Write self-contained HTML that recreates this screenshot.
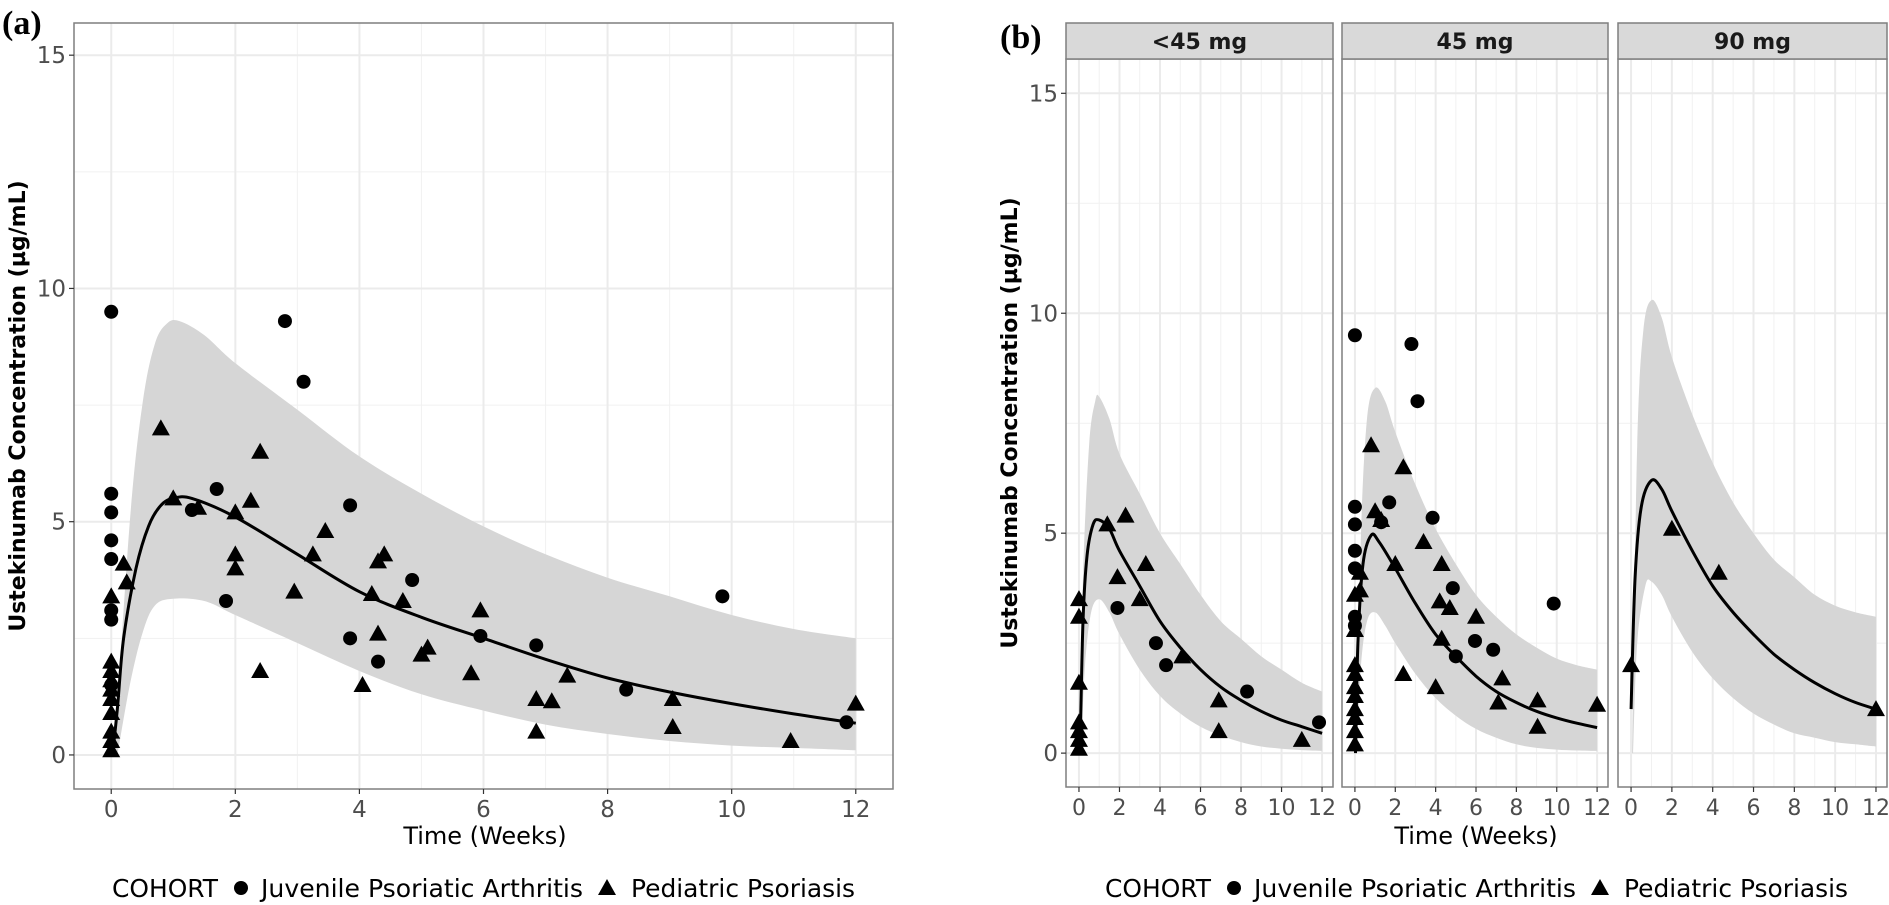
<!DOCTYPE html>
<html><head><meta charset="utf-8"><style>
body{margin:0;background:#fff;}
svg{display:block;font-family:"DejaVu Sans","Liberation Sans",sans-serif;}
</style></head><body>
<svg id="c" width="1889" height="905" viewBox="0 0 1889 905" xmlns="http://www.w3.org/2000/svg"></svg>
<script>
// ---- Panel (a) data ----
const aCircX=[0,0,0,0,0,0,0,0,1.3,1.7,1.85,2.8,3.1,3.85,3.85,4.3,4.85,5.95,6.85,8.3,9.85,11.85];
const aCircY=[9.5,5.6,5.2,4.6,4.2,3.1,2.9,1.5,5.25,5.7,3.3,9.3,8.0,5.35,2.5,2.0,3.75,2.55,2.35,1.4,3.4,0.7];
const aTriX=[0,0,0,0,0,0,0,0,0,0,0.2,0.25,0.8,1.0,1.4,2.0,2.0,2.0,2.25,2.4,2.4,2.95,3.25,3.45,4.05,4.2,4.3,4.3,4.4,4.7,5.0,5.1,5.8,5.95,6.85,6.85,7.1,7.35,9.05,9.05,10.95,12.0];
const aTriY=[3.4,2.0,1.8,1.6,1.4,1.2,0.9,0.5,0.3,0.1,4.1,3.7,7.0,5.5,5.3,5.2,4.3,4.0,5.45,6.5,1.8,3.5,4.3,4.8,1.5,3.45,4.15,2.6,4.3,3.3,2.15,2.3,1.75,3.1,1.2,0.5,1.15,1.7,1.2,0.6,0.3,1.1];
const aMedX=[0.02,0.1,0.2,0.4,0.6,0.8,1.0,1.3,2,3,4,5,6,7,8,9,10,11,12];
const aMedY=[0,1,2.5,4,4.9,5.35,5.5,5.5,5.1,4.3,3.5,2.95,2.5,2.05,1.65,1.35,1.1,0.88,0.68];
const aUpX=[0.05,0.3,0.5,0.7,0.9,1.1,1.5,2,3,4,5,6,7,8,9,10,11,12];
const aUpY=[0,5,7.5,8.8,9.25,9.3,9.0,8.4,7.4,6.4,5.6,4.9,4.3,3.8,3.4,3.0,2.7,2.5];
const aLoX=[0.1,0.3,0.5,0.7,1,1.5,2,3,4,5,6,7,8,9,10,11,12];
const aLoY=[0,1.5,2.6,3.2,3.35,3.3,3.0,2.4,1.8,1.3,0.95,0.65,0.45,0.3,0.2,0.15,0.1];
// ---- Panel (b) data ----
const facetLabels=["<45 mg","45 mg","90 mg"];
const b1CircX=[1.9,3.8,4.3,8.3,11.85];
const b1CircY=[3.3,2.5,2.0,1.4,0.7];
const b1TriX=[0,0,0,0,0,0,0,1.4,1.9,2.3,3.0,3.3,5.1,6.9,6.9,11];
const b1TriY=[3.5,3.1,1.6,0.7,0.5,0.3,0.1,5.2,4.0,5.4,3.5,4.3,2.2,1.2,0.5,0.3];
const b1MedX=[0.05,0.2,0.4,0.7,1,1.5,2,3,4,5,6,7,8,9,10,11,12];
const b1MedY=[0,3,4.5,5.2,5.3,5.1,4.6,3.8,3.0,2.4,1.9,1.5,1.2,0.95,0.75,0.6,0.45];
const b1UpX=[0.05,0.2,0.5,0.8,1,1.5,2,3,4,5,6,7,8,9,10,11,12];
const b1UpY=[0,4,7,8.0,8.1,7.6,6.8,5.9,5.0,4.3,3.6,3.0,2.6,2.2,1.9,1.6,1.4];
const b1LoX=[0.1,0.3,0.6,1,1.5,2,3,4,5,6,7,8,9,10,11,12];
const b1LoY=[0,2,3.2,3.5,3.2,2.7,1.9,1.3,0.9,0.6,0.4,0.25,0.15,0.1,0.07,0.05];
const b2CircX=[0,0,0,0,0,0,0,1.3,1.7,2.8,3.1,3.85,4.85,5.0,5.95,6.85,9.85];
const b2CircY=[9.5,5.6,5.2,4.6,4.2,3.1,2.9,5.25,5.7,9.3,8.0,5.35,3.75,2.2,2.55,2.35,3.4];
const b2TriX=[0,0,0,0,0,0,0,0,0,0,0.25,0.25,0.8,1.0,1.3,2.0,2.4,2.4,3.4,4.0,4.2,4.3,4.3,4.7,6.0,7.1,7.3,9.05,9.05,12];
const b2TriY=[3.6,2.8,2.0,1.8,1.5,1.3,1.0,0.8,0.5,0.2,4.1,3.7,7.0,5.5,5.3,4.3,6.5,1.8,4.8,1.5,3.45,4.3,2.6,3.3,3.1,1.15,1.7,1.2,0.6,1.1];
const b2MedX=[0.03,0.15,0.4,0.8,1.2,2,3,4,5,6,7,8,9,10,11,12];
const b2MedY=[0,2.5,4.3,4.95,4.8,4.2,3.4,2.7,2.2,1.75,1.4,1.15,0.95,0.8,0.68,0.58];
const b2UpX=[0.05,0.3,0.6,1,1.5,2,3,4,5,6,7,8,9,10,11,12];
const b2UpY=[0,5,7.6,8.3,8.0,7.3,6.1,5.1,4.3,3.6,3.1,2.7,2.4,2.15,2.0,1.9];
const b2LoX=[0.1,0.3,0.6,1,1.5,2,3,4,5,6,7,8,9,10,11,12];
const b2LoY=[0,2,3.0,3.2,2.9,2.5,1.8,1.25,0.85,0.55,0.35,0.2,0.12,0.08,0.06,0.05];
const b3CircX=[];
const b3CircY=[];
const b3TriX=[0,2,4.3,12];
const b3TriY=[2.0,5.1,4.1,1.0];
const b3MedX=[0,0.2,0.5,1,1.5,2,3,4,5,6,7,8,9,10,11,12];
const b3MedY=[1.0,4,5.6,6.2,6.0,5.5,4.6,3.8,3.2,2.7,2.25,1.9,1.6,1.35,1.15,1.0];
const b3UpX=[0.05,0.3,0.6,1,1.5,2,3,4,5,6,7,8,9,10,11,12];
const b3UpY=[0,7,9.6,10.3,9.9,9.0,7.7,6.6,5.7,5.0,4.4,4.0,3.6,3.35,3.2,3.1];
const b3LoX=[0.1,0.3,0.7,1,1.5,2,3,4,5,6,7,8,9,10,11,12];
const b3LoY=[0,2.5,3.8,3.9,3.6,3.1,2.3,1.7,1.25,0.9,0.65,0.45,0.35,0.25,0.2,0.15];
const xTicks=[0,2,4,6,8,10,12];
const yTicks=[0,5,10,15];

const NS="http://www.w3.org/2000/svg";
const svg=document.getElementById('c');
function mk(tag,attrs,parent){const e=document.createElementNS(NS,tag);for(const k in attrs)e.setAttribute(k,attrs[k]);(parent||svg).appendChild(e);return e;}

// Catmull-Rom smooth path through points; if cont, continue with 'L'
function smooth(pts,cont){
  let d=(cont?'L':'M')+pts[0][0].toFixed(1)+','+pts[0][1].toFixed(1);
  for(let i=0;i<pts.length-1;i++){
    const p0=pts[i-1]||pts[i],p1=pts[i],p2=pts[i+1],p3=pts[i+2]||pts[i+1];
    const c1x=p1[0]+(p2[0]-p0[0])/6,c1y=p1[1]+(p2[1]-p0[1])/6;
    const c2x=p2[0]-(p3[0]-p1[0])/6,c2y=p2[1]-(p3[1]-p1[1])/6;
    d+=`C${c1x.toFixed(1)},${c1y.toFixed(1)} ${c2x.toFixed(1)},${c2y.toFixed(1)} ${p2[0].toFixed(1)},${p2[1].toFixed(1)}`;
  }
  return d;
}

function panel(o){
  const g=mk('g',{});
  
  
  const sx=v=>o.x0+(v-o.xmin)/(o.xmax-o.xmin)*(o.x1-o.x0);
  const sy=v=>o.y1-(v-o.ymin)/(o.ymax-o.ymin)*(o.y1-o.y0);
  for(let v=1;v<=11;v+=2){mk('line',{x1:sx(v),x2:sx(v),y1:o.y0,y2:o.y1,stroke:'#f1f1f1','stroke-width':1},g);}
  for(const v of [2.5,7.5,12.5]){mk('line',{x1:o.x0,x2:o.x1,y1:sy(v),y2:sy(v),stroke:'#f1f1f1','stroke-width':1},g);}
  for(const v of xTicks){mk('line',{x1:sx(v),x2:sx(v),y1:o.y0,y2:o.y1,stroke:'#ebebeb','stroke-width':2},g);}
  for(const v of yTicks){mk('line',{x1:o.x0,x2:o.x1,y1:sy(v),y2:sy(v),stroke:'#ebebeb','stroke-width':2},g);}
  const up=o.upX.map((x,i)=>[sx(x),sy(o.upY[i])]);
  const lo=o.loX.map((x,i)=>[sx(x),sy(o.loY[i])]).reverse();
  const band=mk('path',{d:smooth(up,false)+smooth(lo,true)+'Z',fill:'#d6d6d6'},g);
  
  
  const md=o.medX.map((x,i)=>[sx(x),sy(o.medY[i])]);
  const med=mk('path',{d:smooth(md,false),fill:'none',stroke:'#000','stroke-width':3,'stroke-linejoin':'round'},g);
  
  
  o.cX.forEach((x,i)=>{
    const c=mk('circle',{cx:sx(x),cy:sy(o.cY[i]),r:7,fill:'#000'},g);
    
    
  });
  o.tX.forEach((x,i)=>{
    const cx=sx(x),cy=sy(o.tY[i]);
    const t=mk('polygon',{points:`${cx},${cy-9} ${cx-9},${cy+7} ${cx+9},${cy+7}`,fill:'#000'},g);
    
    
  });
  mk('rect',{x:o.x0,y:o.y0,width:o.x1-o.x0,height:o.y1-o.y0,fill:'none',stroke:'#7f7f7f','stroke-width':1.5},g);
  for(const v of xTicks){
    mk('line',{x1:sx(v),x2:sx(v),y1:o.y1,y2:o.y1+5,stroke:'#333','stroke-width':1.2},g);
    const t=mk('text',{x:sx(v),y:o.y1+28,'text-anchor':'middle','font-size':o.fs,fill:'#4d4d4d'},g);
    t.textContent=v;
    
    
  }
  if(o.yLabels){
    for(const v of yTicks){
      mk('line',{x1:o.x0-5,x2:o.x0,y1:sy(v),y2:sy(v),stroke:'#333','stroke-width':1.2},g);
      const t=mk('text',{x:o.x0-8,y:sy(v)+8,'text-anchor':'end','font-size':23,fill:'#4d4d4d'},g);
      t.textContent=v;
      
      
    }
  }
  if(o.strip){
    const r=mk('rect',{x:o.x0,y:23,width:o.x1-o.x0,height:36,fill:'#d9d9d9',stroke:'#7f7f7f','stroke-width':1.5},g);
    
    
    const t=mk('text',{x:(o.x0+o.x1)/2,y:49,'text-anchor':'middle','font-size':22,'font-weight':'bold',fill:'#1a1a1a'},g);
    t.textContent=o.strip;
    
    
  }
}

panel({name:'panel-a',x0:74,x1:893,y0:23,y1:789,xmin:-0.6,xmax:12.6,ymin:-0.73,ymax:15.69,fs:23,yLabels:true,
  cX:aCircX,cY:aCircY,tX:aTriX,tY:aTriY,medX:aMedX,medY:aMedY,upX:aUpX,upY:aUpY,loX:aLoX,loY:aLoY});
const bx=[[1066,1333],[1342,1608],[1618,1887]];
const bd=[[b1CircX,b1CircY,b1TriX,b1TriY,b1MedX,b1MedY,b1UpX,b1UpY,b1LoX,b1LoY],
          [b2CircX,b2CircY,b2TriX,b2TriY,b2MedX,b2MedY,b2UpX,b2UpY,b2LoX,b2LoY],
          [b3CircX,b3CircY,b3TriX,b3TriY,b3MedX,b3MedY,b3UpX,b3UpY,b3LoX,b3LoY]];
bd.forEach((d,i)=>{
  panel({name:'panel-b-facet-'+(i+1),x0:bx[i][0],x1:bx[i][1],y0:59,y1:787,xmin:-0.64,xmax:12.54,ymin:-0.77,ymax:15.78,fs:22,yLabels:i===0,strip:facetLabels[i],
    cX:d[0],cY:d[1],tX:d[2],tY:d[3],medX:d[4],medY:d[5],upX:d[6],upY:d[7],loX:d[8],loY:d[9]});
});

function txt(s,attrs,name){const t=mk('text',attrs);t.textContent=s;return t;}
txt('(a)',{x:2,y:34,'font-size':34,'font-weight':'bold','font-family':'Liberation Serif, serif'},'panel-a-label');
txt('(b)',{x:1000,y:48,'font-size':34,'font-weight':'bold','font-family':'Liberation Serif, serif'},'panel-b-label');
txt('Time (Weeks)',{x:485,y:844,'text-anchor':'middle','font-size':24,fill:'#000'},'x-axis-title-a');
txt('Time (Weeks)',{x:1476,y:844,'text-anchor':'middle','font-size':24,fill:'#000'},'x-axis-title-b');
txt('Ustekinumab Concentration (µg/mL)',{x:0,y:0,transform:'translate(25,406) rotate(-90)','text-anchor':'middle','font-size':22,'font-weight':'bold'},'y-axis-title-a');
txt('Ustekinumab Concentration (µg/mL)',{x:0,y:0,transform:'translate(1017,423) rotate(-90)','text-anchor':'middle','font-size':22,'font-weight':'bold'},'y-axis-title-b');

function legend(x0,name){
  const g=mk('g',{});
  
  
  const t1=mk('text',{x:x0,y:897,'font-size':25,textLength:106,lengthAdjust:'spacingAndGlyphs'},g);t1.textContent='COHORT';
  mk('circle',{cx:x0+129,cy:888,r:7,fill:'#000'},g);
  const t2=mk('text',{x:x0+149,y:897,'font-size':25,textLength:322,lengthAdjust:'spacingAndGlyphs'},g);t2.textContent='Juvenile Psoriatic Arthritis';
  const tx=x0+495;
  mk('polygon',{points:`${tx},879 ${tx-9},895 ${tx+9},895`,fill:'#000'},g);
  const t3=mk('text',{x:x0+519,y:897,'font-size':25,textLength:224,lengthAdjust:'spacingAndGlyphs'},g);t3.textContent='Pediatric Psoriasis';
}
legend(112,'legend-a');
legend(1105,'legend-b');
</script>
</body></html>
